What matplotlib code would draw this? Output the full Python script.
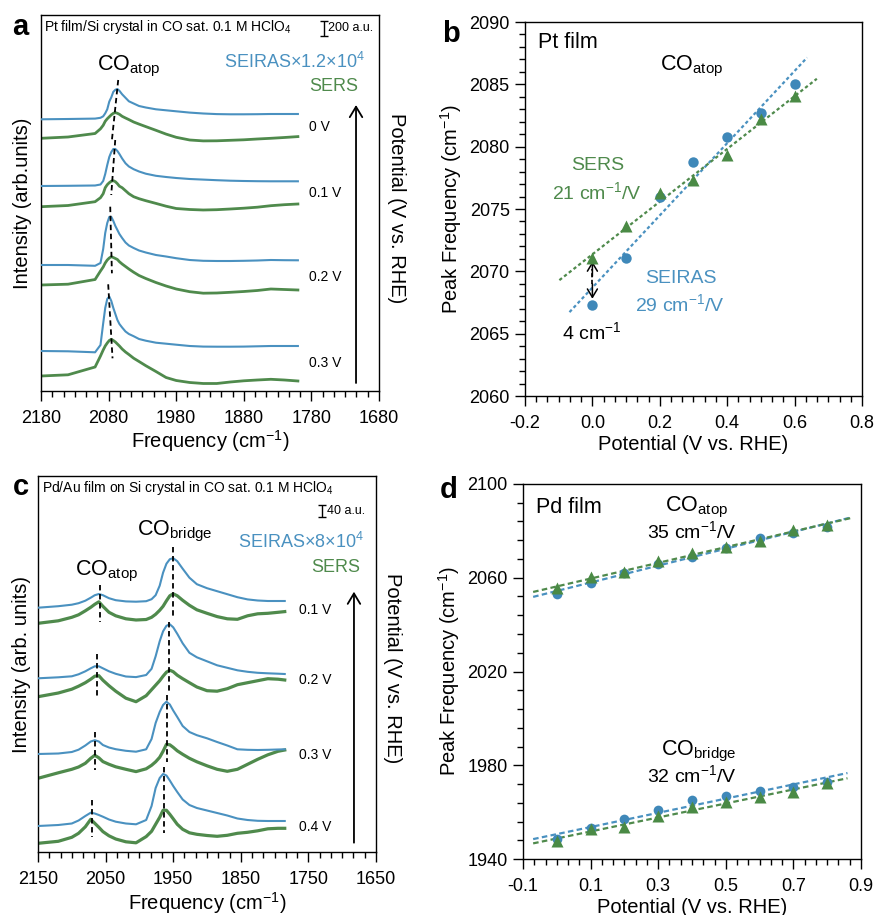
import numpy as np
import matplotlib
matplotlib.use('Agg')
import matplotlib.pyplot as plt
from matplotlib.ticker import AutoMinorLocator, MultipleLocator

plt.rcParams['font.family'] = ['Liberation Sans', 'DejaVu Sans']
plt.rcParams['mathtext.default'] = 'regular'
plt.rcParams['axes.unicode_minus'] = False

BLUE = '#4a91c0'
GREEN = '#4f8a4c'

# ---- panel a: Pt film spectra (intensity in arb. units, baseline-relative) ----
freq_a = [2180, 2140, 2100, 2092, 2088, 2085, 2082, 2079, 2076, 2073, 2070, 2067, 2064, 2060,
          2055, 2050, 2043, 2035, 2025, 2010, 1995, 1980, 1960, 1940, 1920, 1900, 1880, 1860,
          1840, 1820, 1800]
pot_a = ['0 V', '0.1 V', '0.2 V', '0.3 V']
seiras_a = [
    [0, 0.3, 0.7, 1.5, 3, 6, 10, 17.7, 22, 27.5, 29.5, 30.3, 28.5, 25, 21.5, 18, 15.8, 13.3, 11.8,
     10, 9, 8, 6.7, 5.8, 5.2, 5, 5, 5.1, 5.3, 5.3, 5.3],
    [0, 0.2, 0.5, 1.5, 5, 12, 21, 29, 34, 37, 37, 35, 32, 27.5, 22.7, 19.5, 16.8, 14.5, 12.3, 10.2,
     9, 8, 7, 6.4, 5.8, 5.3, 5, 4.8, 4.7, 4.7, 4.7],
    [0, 0, -0.8, 2, 16, 32, 42, 48, 48, 44, 39, 35, 31, 27, 22.5, 19.5, 17, 14.5, 12.5, 10, 8.5,
     6.8, 5, 4.2, 4, 4, 4.2, 4.5, 5, 4.8, 4.7],
    [0, -0.3, -1.3, 6, 27.7, 43, 52, 54.5, 50, 43, 37, 31, 27, 23.5, 19.5, 17, 14.8, 12, 10.3,
     8.3, 7.3, 6.3, 5, 4.4, 4.3, 4.3, 4.4, 4.7, 5, 5, 5],
]
sers_a = [
    [0, 1.3, 4.8, 9.5, 13, 17, 19.5, 21.5, 23.5, 25, 25.7, 25, 24, 22, 20.3, 18.7, 16.3, 14.2,
     11.7, 8, 4.2, 1, -1.7, -2.6, -2.5, -2, -1.5, -0.7, 0, 0.8, 1.7],
    [0, 1.2, 5, 9, 13, 19, 22, 24, 25.5, 26, 25, 23, 20.5, 19, 16, 13, 10, 8, 6, 3.3, 0.5, -1.8,
     -2.8, -3.3, -3, -2.3, -1.5, -0.5, 1, 2, 2.7],
    [0, 0.8, 5.5, 14, 18, 22, 25, 27, 28.3, 27.5, 26.5, 25.5, 23.3, 21, 18.5, 16, 12.8, 9.5, 6.5,
     2.5, -1, -4, -6.7, -8.2, -8, -7.3, -6.5, -5.5, -4, -4.5, -5],
    [0, 1.2, 9, 20, 26, 30, 33, 35.5, 36.7, 35.5, 34, 32, 30, 27, 24, 21.5, 17.8, 14.5, 10.3, 4.5,
     -1.5, -4.5, -6.5, -7.5, -7.5, -6, -4.8, -4, -3.3, -4, -5],
]
off_seiras_a = [271.7, 205, 126, 40]
off_sers_a = [252.7, 184.3, 106, 15]
# peak guide lines: (freq top, freq bottom, y top, y bottom)
peak_a = [(2065.8, 2075.1, 311, 251), (2070.2, 2076.1, 251, 196),
          (2077.6, 2075.1, 184.3, 117.7), (2080.6, 2074.2, 106.7, 32.7)]

# ---- panel b: Pt film peak positions ----
pot_b = [0.0, 0.1, 0.2, 0.3, 0.4, 0.5, 0.6]
seiras_b = [2067.3, 2071.1, 2076.0, 2078.8, 2080.8, 2082.7, 2085.0]
sers_b = [2071.1, 2073.6, 2076.3, 2077.35, 2079.3, 2082.2, 2084.1]

# ---- panel c: Pd/Au film spectra ----
freq_c = [2150, 2120, 2100, 2090, 2080, 2072, 2066, 2060, 2054, 2045, 2035, 2020, 2005, 1990,
          1982, 1976, 1970, 1965, 1960, 1955, 1950, 1944, 1936, 1926, 1915, 1900, 1885, 1870,
          1855, 1840, 1825, 1810, 1795, 1785]
pot_c = ['0.1 V', '0.2 V', '0.3 V', '0.4 V']
seiras_c = [
    [0, 1.5, 3, 4.5, 7, 10, 12.5, 13.7, 12.5, 9.5, 7.5, 6.3, 6, 6.5, 8.5, 12.5, 22, 35, 44, 48.5,
     49.5, 46.5, 39, 30, 23.5, 19.5, 16.5, 13.5, 10.5, 8.3, 7.2, 6.7, 6.7, 6.7],
    [0, 1, 2, 4, 7, 10, 12, 12, 10, 7, 4.5, 1.8, 1.2, 3.3, 9.5, 22, 37, 47, 52.5, 54, 51, 44.5,
     35, 25.5, 21, 17, 13, 10.5, 8, 6.5, 5.5, 5, 4.6, 4.3],
    [0, 0.5, 2, 4.3, 8.5, 12.5, 13.8, 12.5, 9, 6.5, 4.8, 3.2, 2.3, 4.7, 15, 31, 42, 49, 52.3, 49.5,
     43.5, 37, 28, 22, 18.8, 15.7, 12, 8.5, 4.7, 4.2, 4, 4.2, 4.5, 4.7],
    [0, 1, 2.5, 5.5, 10, 13.3, 12.5, 11, 9.3, 6.5, 4.3, 2.5, 1.7, 6, 20, 38, 48, 52, 50.5, 45.5,
     40, 34, 26.5, 21, 18, 15.5, 13, 10.5, 7.5, 6, 5.2, 5, 5, 5],
]
sers_c = [
    [0, 2.5, 6, 8.5, 12.5, 16, 19, 21.5, 17, 11, 7.5, 4.5, 3.3, 3.8, 6, 9, 13, 17, 22.5, 27.5,
     29.5, 27.5, 23, 18, 13.5, 10, 6.7, 4.5, 4, 7.5, 9.5, 10, 11, 11.7],
    [0, 3.7, 7.5, 10.5, 14, 17.5, 20.5, 21, 16.5, 11, 5.5, -1.5, -5, 1, 7, 11.5, 16, 20.5, 24.5,
     26.5, 25, 21.5, 18, 14, 9.7, 6, 5.5, 8, 12, 14, 16, 18, 17.5, 16.7],
    [0, 5.5, 9, 11.3, 15, 20, 23, 20.5, 16.7, 14, 11.5, 9, 6.7, 9.5, 13, 16.5, 21, 27, 34, 33.5,
     31, 27.5, 24, 20, 16.5, 12.5, 9, 7, 9, 14, 19, 23.5, 27, 28.3],
    [0, 2, 6, 10, 16.5, 24, 20, 16, 11.7, 7.5, 4.3, 1.5, 0.5, 6.7, 12, 19, 26, 33, 33, 29, 24.5,
     19, 14, 10.5, 9, 7.8, 7, 8, 10, 11, 12.5, 14.5, 15, 15],
]
off_seiras_c = [244.3, 173.7, 98, 26]
off_sers_c = [228.7, 155.3, 73.7, 8.7]
# guide lines: (freq, y top, y bottom)
atop_c = [(2059, 267, 230.3), (2062.4, 197.7, 156), (2066.4, 120.3, 82), (2070.2, 52, 15.3)]
bridge_c = [(1951, 304.7, 236), (1955.5, 230.3, 160.3), (1959.4, 157, 90.3), (1963.8, 85.3, 18.7)]

# ---- panel d: Pd film peak positions ----
pot_d = [0.0, 0.1, 0.2, 0.3, 0.4, 0.5, 0.6, 0.7, 0.8]
seiras_atop_d = [2053.1, 2057.9, 2061.9, 2066.0, 2069.0, 2072.9, 2077.1, 2079.3, 2081.8]
sers_atop_d = [2055.5, 2060.2, 2062.3, 2067.3, 2070.4, 2073.0, 2075.8, 2080.4, 2082.5]
seiras_bridge_d = [1948.4, 1953.1, 1957.1, 1961.0, 1965.0, 1966.9, 1969.2, 1970.9, 1973.0]
sers_bridge_d = [1947.7, 1952.7, 1953.5, 1958.4, 1962.0, 1964.5, 1966.3, 1968.7, 1972.6]


fig = plt.figure(figsize=(8.75, 9.15), dpi=100)
ax_a = fig.add_axes([0.04686, 0.57268, 0.38629, 0.41093])
ax_b = fig.add_axes([0.6, 0.56721, 0.38514, 0.40874])
ax_c = fig.add_axes([0.04343, 0.06885, 0.38629, 0.41093])
ax_d = fig.add_axes([0.59771, 0.0612, 0.38629, 0.40984])

for ax in (ax_a, ax_b, ax_c, ax_d):
    for s in ax.spines.values():
        s.set_linewidth(1.0)
    ax.tick_params(which='both', direction='out', top=False, right=False, width=1, labelsize=13)
    ax.tick_params(which='major', length=7)
    ax.tick_params(which='minor', length=4)
    ax.tick_params(axis='x', pad=6.5)
    ax.tick_params(axis='y', pad=4)


def spectra_panel(ax, freq, seiras, sers, off_s, off_r, lw_r):
    for i in range(len(seiras)):
        ax.plot(freq, np.array(seiras[i]) + off_s[i], color=BLUE, lw=1.5, zorder=3)
        ax.plot(freq, np.array(sers[i]) + off_r[i], color=GREEN, lw=lw_r, zorder=2)
    ax.set_ylim(0, 376)
    ax.tick_params(axis='y', left=False, labelleft=False)
    ax.xaxis.set_minor_locator(AutoMinorLocator(6))


# panel a
spectra_panel(ax_a, freq_a, seiras_a, sers_a, off_seiras_a, off_sers_a, 2.0)
ax_a.set_xlim(2180, 1680)
ax_a.set_xticks([2180, 2080, 1980, 1880, 1780, 1680])
for ft, fb, yt, yb in peak_a:
    ax_a.plot([ft, fb], [yt, yb], color='k', lw=1.3, ls=(0, (3, 2)), zorder=4)
for lab, y in zip(pot_a, [264, 198, 114, 28]):
    ax_a.text(1784, y, lab, fontsize=10, va='center', ha='left')
ax_a.text(2175.5, 364, 'Pt film/Si crystal in CO sat. 0.1 M HClO$_4$', fontsize=10, va='center')
ax_a.errorbar([1761.6], [362.7], yerr=[7.6], color='k', lw=1, capsize=3, capthick=1)
ax_a.text(1756, 363, '200 a.u.', fontsize=9, va='center')
ax_a.text(2097.4, 321, 'CO$_{atop}$', fontsize=15.5, va='baseline')
ax_a.text(1700.8, 322.7, 'SEIRAS×1.2×10$^4$', fontsize=13, color=BLUE, ha='right', va='baseline')
ax_a.text(1711.2, 300.3, 'SERS', fontsize=13, color=GREEN, ha='right', va='baseline')
ax_a.annotate('', xy=(1714, 286), xytext=(1714, 8),
              arrowprops=dict(arrowstyle='->,head_length=0.5,head_width=0.3', lw=1.3,
                              mutation_scale=15, shrinkA=0, shrinkB=0))
ax_a.text(1.053, 0.487, 'Potential (V vs. RHE)', transform=ax_a.transAxes, rotation=270,
          fontsize=14.5, ha='center', va='center')
ax_a.text(-0.055, 0.5, 'Intensity (arb.units)', transform=ax_a.transAxes, rotation=90,
          fontsize=14.5, ha='center', va='center')
ax_a.text(0.5, -0.133, 'Frequency (cm$^{-1}$)', transform=ax_a.transAxes,
          fontsize=14.5, ha='center', va='center')

# panel c
spectra_panel(ax_c, freq_c, seiras_c, sers_c, off_seiras_c, off_sers_c, 2.3)
ax_c.set_xlim(2150, 1650)
ax_c.set_xticks([2150, 2050, 1950, 1850, 1750, 1650])
for f, yt, yb in atop_c + bridge_c:
    ax_c.plot([f, f], [yt, yb], color='k', lw=1.3, ls=(0, (3, 2)), zorder=4)
for lab, y in zip(pot_c, [242, 172, 97, 25.3]):
    ax_c.text(1764, y, lab, fontsize=10, va='center', ha='left')
ax_c.text(2143.6, 364, 'Pd/Au film on Si crystal in CO sat. 0.1 M HClO$_4$', fontsize=10,
          va='center')
ax_c.errorbar([1730.3], [340.8], yerr=[6.2], color='k', lw=1, capsize=3, capthick=1)
ax_c.text(1723, 341, '40 a.u.', fontsize=9, va='center')
ax_c.text(2003.7, 317, 'CO$_{bridge}$', fontsize=15.5, va='baseline')
ax_c.text(2094.9, 277, 'CO$_{atop}$', fontsize=15.5, va='baseline')
ax_c.text(1667.8, 303.7, 'SEIRAS×8×10$^4$', fontsize=13, color=BLUE, ha='right', va='baseline')
ax_c.text(1672.7, 280.3, 'SERS', fontsize=13, color=GREEN, ha='right', va='baseline')
ax_c.annotate('', xy=(1682.6, 260.3), xytext=(1682.6, 9.3),
              arrowprops=dict(arrowstyle='->,head_length=0.5,head_width=0.3', lw=1.3,
                              mutation_scale=15, shrinkA=0, shrinkB=0))
ax_c.text(1.05, 0.49, 'Potential (V vs. RHE)', transform=ax_c.transAxes, rotation=270,
          fontsize=14.5, ha='center', va='center')
ax_c.text(-0.05, 0.5, 'Intensity (arb. units)', transform=ax_c.transAxes, rotation=90,
          fontsize=14.5, ha='center', va='center')
ax_c.text(0.5, -0.135, 'Frequency (cm$^{-1}$)', transform=ax_c.transAxes,
          fontsize=14.5, ha='center', va='center')


def fit_line(ax, x, y, x0, x1, color, ls):
    k, b = np.polyfit(x, y, 1)
    xx = np.array([x0, x1])
    ax.plot(xx, k * xx + b, color=color, lw=1.6, ls=ls, zorder=2)


# panel b
fit_line(ax_b, pot_b, seiras_b, -0.068, 0.637, BLUE, (0, (1.5, 1.2)))
fit_line(ax_b, pot_b, sers_b, -0.098, 0.666, GREEN, (0, (1.5, 1.2)))
ax_b.plot(pot_b, seiras_b, 'o', color='#3f88b9', ms=7.5, mec='none', zorder=3)
ax_b.plot(pot_b, sers_b, '^', color='#4a8a45', ms=8.5, mec='none', zorder=4)
ax_b.set_xlim(-0.2, 0.8)
ax_b.set_ylim(2060, 2090)
ax_b.xaxis.set_major_locator(MultipleLocator(0.2))
ax_b.xaxis.set_minor_locator(AutoMinorLocator(6))
ax_b.yaxis.set_major_locator(MultipleLocator(5))
ax_b.yaxis.set_minor_locator(AutoMinorLocator(5))
ax_b.xaxis.set_major_formatter(plt.FuncFormatter(lambda v, p: '%.1f' % v))
ax_b.plot([0, 0], [2069.0, 2070.2], color='k', lw=1.2, ls=(0, (2.5, 1.5)))
ax_b.annotate('', xy=(0, 2070.8), xytext=(0, 2069.6),
              arrowprops=dict(arrowstyle='->,head_length=0.5,head_width=0.3', lw=1.1,
                              mutation_scale=12, shrinkA=0, shrinkB=0))
ax_b.annotate('', xy=(0, 2067.8), xytext=(0, 2069.0),
              arrowprops=dict(arrowstyle='->,head_length=0.5,head_width=0.3', lw=1.1,
                              mutation_scale=12, shrinkA=0, shrinkB=0))
ax_b.text(-0.16, 2087.9, 'Pt film', fontsize=15.5, va='baseline')
ax_b.text(0.2, 2086.1, 'CO$_{atop}$', fontsize=15.5, va='baseline')
ax_b.text(0.016, 2078.1, 'SERS', fontsize=14, color=GREEN, ha='center', va='baseline')
ax_b.text(0.013, 2075.8, '21 cm$^{-1}$/V', fontsize=14, color=GREEN, ha='center', va='baseline')
ax_b.text(0.264, 2069.1, 'SEIRAS', fontsize=14, color=BLUE, ha='center', va='baseline')
ax_b.text(0.258, 2066.8, '29 cm$^{-1}$/V', fontsize=14, color=BLUE, ha='center', va='baseline')
ax_b.text(-0.002, 2064.6, '4 cm$^{-1}$', fontsize=14, ha='center', va='baseline')
ax_b.set_xlabel('Potential (V vs. RHE)', fontsize=14.5, labelpad=2)
ax_b.set_ylabel('Peak Frequency (cm$^{-1}$)', fontsize=14.5, labelpad=4)

# panel d
fit_line(ax_d, pot_d, seiras_atop_d, -0.07, 0.868, BLUE, (0, (2.5, 1.5)))
fit_line(ax_d, pot_d, sers_atop_d, -0.07, 0.868, GREEN, (0, (2.5, 1.5)))
fit_line(ax_d, pot_d, seiras_bridge_d, -0.07, 0.86, BLUE, (0, (2.5, 1.5)))
fit_line(ax_d, pot_d, sers_bridge_d, -0.07, 0.86, GREEN, (0, (2.5, 1.5)))
ax_d.plot(pot_d, seiras_atop_d, 'o', color='#3f88b9', ms=7, mec='none', zorder=3)
ax_d.plot(pot_d, seiras_bridge_d, 'o', color='#3f88b9', ms=7, mec='none', zorder=3)
ax_d.plot(pot_d, sers_atop_d, '^', color='#4a8a45', ms=8, mec='none', zorder=4)
ax_d.plot(pot_d, sers_bridge_d, '^', color='#4a8a45', ms=8, mec='none', zorder=4)
ax_d.set_xlim(-0.1, 0.9)
ax_d.set_ylim(1940, 2100)
ax_d.set_xticks([-0.1, 0.1, 0.3, 0.5, 0.7, 0.9])
ax_d.set_yticks([1940, 1980, 2020, 2060, 2100])
ax_d.xaxis.set_minor_locator(AutoMinorLocator(6))
ax_d.yaxis.set_minor_locator(AutoMinorLocator(5))
ax_d.text(-0.0625, 2087.5, 'Pd film', fontsize=15.5, va='baseline')
ax_d.text(0.32, 2088.5, 'CO$_{atop}$', fontsize=15.5, va='baseline')
ax_d.text(0.40, 2077.1, '35 cm$^{-1}$/V', fontsize=14, ha='center', va='baseline')
ax_d.text(0.3074, 1984.4, 'CO$_{bridge}$', fontsize=15.5, va='baseline')
ax_d.text(0.40, 1973, '32 cm$^{-1}$/V', fontsize=14, ha='center', va='baseline')
ax_d.set_xlabel('Potential (V vs. RHE)', fontsize=14.5, labelpad=2)
ax_d.set_ylabel('Peak Frequency (cm$^{-1}$)', fontsize=14.5, labelpad=4)

for lab, x, y in [('a', 0.0137, 0.9617), ('b', 0.505, 0.954), ('c', 0.0149, 0.459),
                  ('d', 0.503, 0.4557)]:
    fig.text(x, y, lab, fontsize=21, fontweight='bold', va='baseline')

fig.savefig('out.png', dpi=100)
